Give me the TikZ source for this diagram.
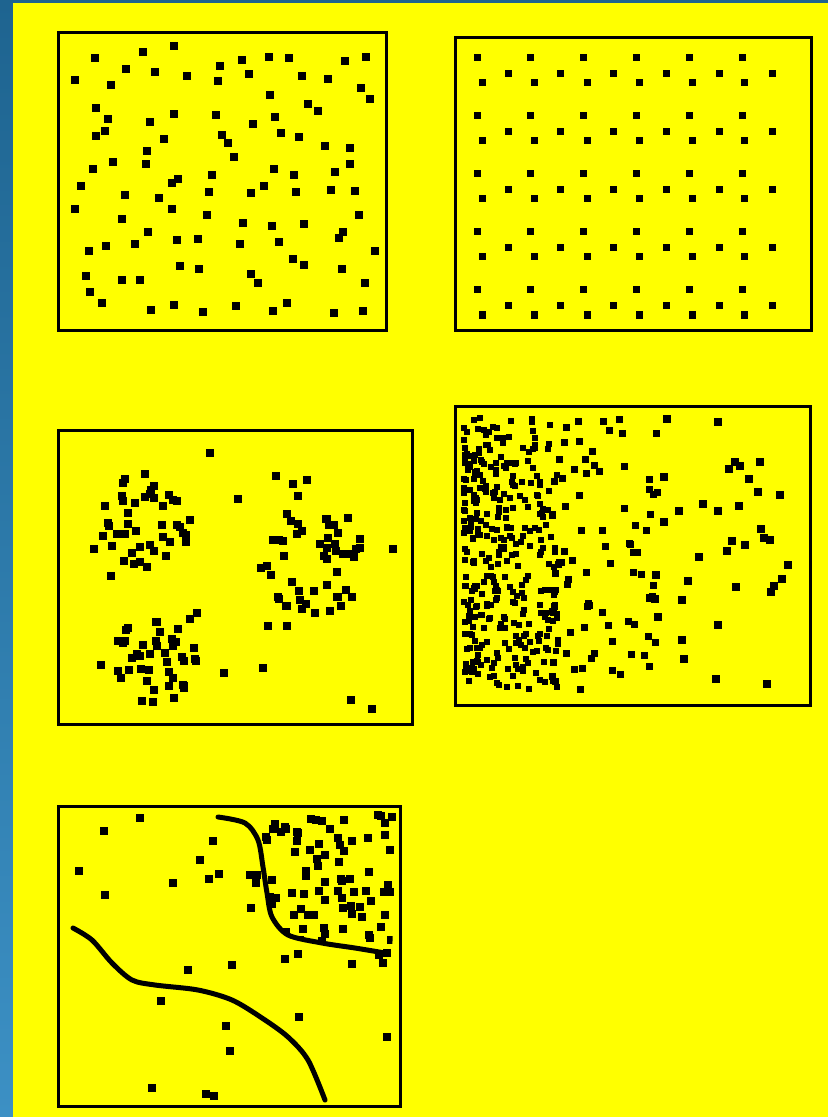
\documentclass[tikz,border=0pt]{standalone}
\usepackage{tikz}

\definecolor{bgyellow}{RGB}{255,255,0}
\definecolor{edgetop}{RGB}{30,100,144}
\definecolor{edgebot}{RGB}{60,144,196}

\tikzset{
  panel/.style={draw=black, line width=1.5pt},
  spot/.style={fill=black},
  border/.style={line width=2.5pt, line cap=round, line join=round}
}

% one square point, size #1 px
\newcommand{\spotat}[3][8]{%
  \pgfmathsetmacro\spx{#2-#1/2}%
  \pgfmathsetmacro\spy{#3-#1/2}%
  \fill[spot] (\spx,\spy) rectangle ++(#1,#1);}

\begin{document}
\begin{tikzpicture}[x=0.5pt, y=-0.5pt]
        \useasboundingbox (0,0) rectangle (828,1117);

        % 背景 (background)
        \shade[top color=edgetop, bottom color=edgebot] (0,0) rectangle (828,1117);
        \fill[bgyellow] (13,3) rectangle (828,1117);

        \pgfmathsetseed{4217}

        % 随机分布 (random)
        \foreach \r in {0,...,9} {
            \foreach \c in {0,...,9} {
                \pgfmathsetmacro\px{84+31*\c+28*(rnd-0.5)}
                \pgfmathsetmacro\py{56+27.5*\r+26*(rnd-0.5)}
                \spotat{\px}{\py}
            }
        }
        \draw[panel] (58,33) rectangle (386,330);

        % 规则分布 (regular)
        \foreach \r in {0,...,4} {
            \pgfmathsetmacro\ya{58+58*\r}
            \foreach \c in {0,...,5} {
                \spotat[7]{477+53*\c}{\ya}
                \spotat[7]{508+52.8*\c}{\ya+16}
                \spotat[7]{482+52.5*\c}{\ya+25}
            }
        }
        \draw[panel] (455,38) rectangle (811,330);

        % 聚集分布 (clustered)
        \foreach \cx/\cy/\rr/\n in {147/520/48/40, 313/560/55/46, 152/662/46/38} {
            \foreach \i in {1,...,\n} {
                \pgfmathsetmacro\rad{\rr*sqrt(rnd)}
                \pgfmathsetmacro\ang{360*rnd}
                \pgfmathsetmacro\px{\cx+\rad*cos(\ang)}
                \pgfmathsetmacro\py{\cy+\rad*sin(\ang)}
                \spotat{\px}{\py}
            }
        }
        \foreach \i in {1,...,30} {
            \pgfmathsetmacro\px{74+322*rnd}
            \pgfmathsetmacro\py{446+264*rnd}
            \spotat{\px}{\py}
        }
        \draw[panel] (58,430) rectangle (412,724);

        % 梯度分布 (gradient)
        \foreach \xa/\bw/\ex/\n/\sz in {464/95/1.4/340/6, 552/110/1.2/80/7, 650/150/1/38/8} {
            \foreach \i in {1,...,\n} {
                \pgfmathsetmacro\px{\xa+\bw*rnd^\ex}
                \pgfmathsetmacro\py{418+272*rnd}
                \spotat[\sz]{\px}{\py}
            }
        }
        \draw[panel] (455,406) rectangle (810,705);

        % 分区分布 (regions)
        \foreach \i in {1,...,40} {
            \pgfmathsetmacro\px{72+318*rnd}
            \pgfmathsetmacro\py{818+278*rnd}
            \spotat{\px}{\py}
        }
        \begin{scope}
            \clip plot[smooth] coordinates {(218,817) (245,823) (258,840) (263,867) (267,893)
                (272,917) (288,935) (322,943) (355,948) (392,953)} -- (398,808) -- (218,808) -- cycle;
            \foreach \i in {1,...,70} {
                \pgfmathsetmacro\px{262+132*rnd}
                \pgfmathsetmacro\py{814+134*rnd}
                \spotat{\px}{\py}
            }
        \end{scope}
        \draw[border] plot[smooth] coordinates {(218,817) (245,823) (258,840) (263,867) (267,893)
            (272,917) (288,935) (322,943) (355,948) (385,953)};
        \draw[border] plot[smooth] coordinates {(73,928) (92,940) (112,963) (132,980) (155,985)
            (198,990) (232,1000) (262,1018) (288,1037) (308,1060) (325,1100)};
        \draw[panel] (58,806) rectangle (400,1106);
\end{tikzpicture}
\end{document}
